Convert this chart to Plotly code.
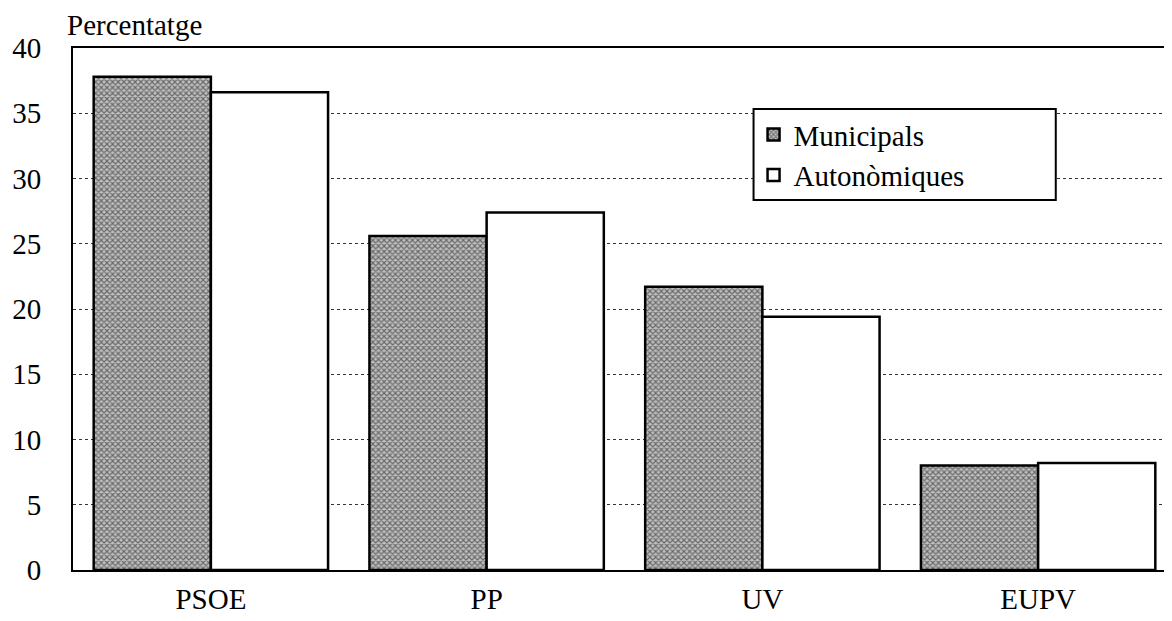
import plotly.graph_objects as go

categories = ["PSOE", "PP", "UV", "EUPV"]
municipals = [37.8, 25.6, 21.7, 8.0]
autonomiques = [36.6, 27.4, 19.4, 8.2]
y_ticks = [0, 5, 10, 15, 20, 25, 30, 35, 40]

FONT = "Liberation Serif, Times New Roman, serif"
FS = 29

fig = go.Figure()
fig.add_trace(go.Bar(
    x=categories, y=municipals, name="Municipals",
    marker=dict(color="#b0b0b0", line=dict(color="black", width=2.5),
                pattern=dict(shape="x", size=4, solidity=0.5, fgcolor="#111111", bgcolor="#c0c0c0")),
))
fig.add_trace(go.Bar(
    x=categories, y=autonomiques, name="Autonòmiques",
    marker=dict(color="white", line=dict(color="black", width=2.5)),
))

fig.update_layout(
    width=1172, height=621,
    margin=dict(l=60, r=4, t=40, b=59),
    paper_bgcolor="white", plot_bgcolor="white",
    font=dict(family=FONT, size=FS, color="black"),
    barmode="group", bargap=0.15, bargroupgap=0,
    showlegend=True,
    legend=dict(x=0.617, y=0.883, xanchor="left", yanchor="top",
                borderwidth=0, bgcolor="rgba(0,0,0,0)",
                font=dict(family=FONT, size=FS), itemwidth=30,
                tracegroupgap=0),
    shapes=[dict(type="rect", xref="paper", yref="paper",
                 x0=0.617, x1=0.891, y0=0.709, y1=0.883,
                 line=dict(color="black", width=2), fillcolor="white", layer="above")],
    annotations=[dict(text="Percentatge", xref="paper", yref="paper",
                      x=-0.007, y=1.044, xanchor="left", yanchor="middle",
                      showarrow=False, font=dict(family=FONT, size=FS))],
)
fig.update_xaxes(showline=True, linecolor="black", linewidth=2, mirror=True,
                 showgrid=False, ticks="", ticklabelstandoff=2,
                 tickfont=dict(family=FONT, size=FS))
fig.update_yaxes(range=[0, 40], tickvals=y_ticks, showline=True, linecolor="black",
                 linewidth=2, showgrid=True, gridcolor="#333333", griddash="dot",
                 gridwidth=1, zeroline=False, ticks="", ticklabelstandoff=24,
                 tickfont=dict(family=FONT, size=FS))

fig.write_html("out.html")
